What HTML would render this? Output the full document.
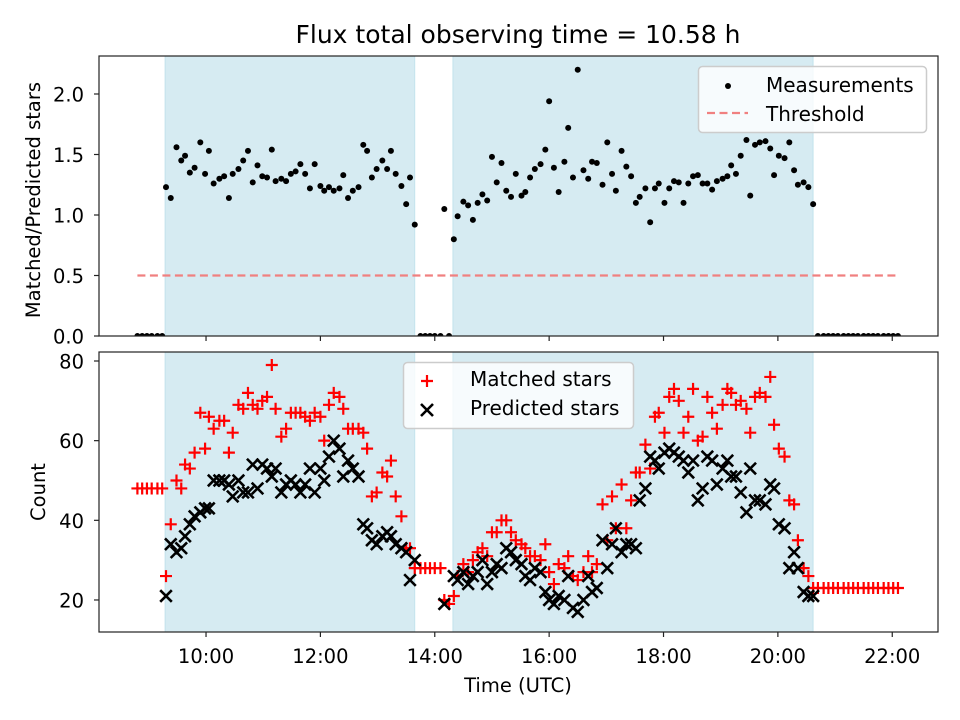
<!DOCTYPE html>
<html><head><meta charset="utf-8">
<style>
html,body{margin:0;padding:0;background:#fff;}
svg{display:block;font-family:"DejaVu Sans","Liberation Sans",sans-serif;}
</style></head>
<body>
<svg id="chart" width="960" height="720" viewBox="0 0 960 720" xmlns="http://www.w3.org/2000/svg">
<defs>
<clipPath id="clipTop"><rect x="99" y="56" width="839" height="280"/></clipPath>
<clipPath id="clipBot"><rect x="99" y="352" width="839" height="280"/></clipPath>
</defs>
<g id="layer"></g>
</svg>
<script>
// time in minutes since 00:00 UTC
const times = [528,533,538,543,549,554,
558,563,569,574,578,583,588,594,599,603,608,614,619,624,628,634,639,644,649,654,659,664,669,673,679,684,689,694,699,704,709,714,720,724,729,734,740,744,749,754,760,765,769,774,779,785,790,794,799,805,810,814,819,
825,830,835,840,846,850,855,
860,864,870,875,880,885,890,895,900,905,910,915,920,925,931,935,940,945,951,956,960,965,970,976,980,985,990,996,1001,1005,1010,1016,1021,1026,1030,1036,1041,1046,1051,1055,1061,1066,1071,1075,1081,1086,1091,1096,1101,1106,1111,1116,1121,1126,1131,1136,1142,1147,1151,1156,1161,1167,1171,1176,1181,1187,1192,1196,1201,1207,1212,1217,1221,1227,1232,1237,
1242,1248,1253,1258,1263,1269,1274,1279,1284,1290,1295,1300,1305,1311,1316,1321,1326];
const ratio = [0,0,0,0,0,0,
1.23,1.14,1.56,1.45,1.49,1.35,1.39,1.60,1.34,1.53,1.26,1.30,1.32,1.14,1.34,1.38,1.45,1.53,1.27,1.41,1.32,1.31,1.54,1.28,1.30,1.28,1.34,1.36,1.42,1.34,1.22,1.42,1.24,1.20,1.23,1.20,1.22,1.33,1.14,1.20,1.23,1.58,1.53,1.31,1.38,1.45,1.38,1.53,1.34,1.24,1.09,1.31,0.92,
0,0,0,0,0,1.05,0,
0.80,0.99,1.11,1.08,0.96,1.10,1.17,1.12,1.48,1.27,1.43,1.20,1.15,1.34,1.16,1.19,1.31,1.38,1.42,1.54,1.94,1.39,1.19,1.44,1.72,1.31,2.20,1.37,1.30,1.44,1.43,1.25,1.60,1.34,1.20,1.53,1.40,1.32,1.10,1.15,1.22,0.94,1.22,1.26,1.10,1.22,1.28,1.27,1.10,1.26,1.32,1.33,1.26,1.26,1.21,1.28,1.30,1.32,1.41,1.34,1.49,1.62,1.16,1.58,1.60,1.61,1.55,1.33,1.49,1.47,1.60,1.37,1.25,1.27,1.23,1.09,
0,0,0,0,0,0,0,0,0,0,0,0,0,0,0,0,0];
const matched = [48,48,48,48,48,48,
26,39,50,48,54,53,57,67,58,66,63,65,65,57,62,69,68,72,69,68,70,71,79,68,61,63,67,67,67,66,65,67,66,60,69,72,71,68,63,63,63,62,58,46,47,52,51,55,46,41,33,33,28,
28,28,28,28,28,20,19,
21,26,29,27,30,32,33,31,37,37,40,40,37,35,34,33,31,31,30,34,27,24,29,28,31,26,25,27,31,27,29,44,35,46,38,49,38,45,52,52,59,53,66,67,62,71,73,70,62,66,73,60,61,71,67,63,69,73,72,69,70,68,62,71,72,71,76,64,58,56,45,44,35,28,26,23,
23,23,23,23,23,23,23,23,23,23,23,23,23,23,23,23,23];
const predicted = [0,0,0,0,0,0,
21,34,32,33,36,39,41,42,43,43,50,50,50,49,46,50,47,47,54,48,54,53,51,53,47,49,50,49,47,49,53,47,53,50,56,60,58,51,55,53,51,39,38,35,34,36,37,36,34,33,32,25,30,
0,0,0,0,0,19,0,
26,25,27,24,26,27,30,24,27,29,28,33,32,30,29,26,25,28,27,22,20,19,21,20,26,18,17,20,26,22,23,35,28,34,38,32,34,34,33,45,48,56,55,53,57,58,57,56,55,52,55,45,48,56,55,49,53,55,51,51,47,42,53,45,45,44,49,48,39,38,28,32,28,22,21,21,
0,0,0,0,0,0,0,0,0,0,0,0,0,0,0,0,0];
const sessions = [[557,819],[859,1237]];
const threshold = 0.5;
const xTicks = [600,720,840,960,1080,1200,1320];
const xTickLabels = ["10:00","12:00","14:00","16:00","18:00","20:00","22:00"];
const yTopTicks = [0,0.5,1.0,1.5,2.0];
const yTopLabels = ["0.0","0.5","1.0","1.5","2.0"];
const yBotTicks = [20,40,60,80];
const yBotLabels = ["20","40","60","80"];

(function(){
const NS="http://www.w3.org/2000/svg";
const L=99,R=938,TT=56,TB=336,BT=352,BB=632;
const X0=487.7,X1=1368;
const sx=v=>L+(v-X0)/(X1-X0)*(R-L);
const syTop=v=>TB-(v-0)/(2.314)*(TB-TT);
const syBot=v=>BB-(v-11.96)/(82.26-11.96)*(BB-BT);
const layer=document.getElementById('layer');
function mk(tag,attrs,parent){const e=document.createElementNS(NS,tag);for(const k in attrs)e.setAttribute(k,attrs[k]);(parent||layer).appendChild(e);return e;}

function panel(y0,y1,name,clip){
  const g=mk('g',{});
  
  
  const cg=mk('g',{'clip-path':clip},g);
  sessions.forEach((s,i)=>{
    const r=mk('rect',{x:sx(s[0]),y:y0,width:sx(s[1])-sx(s[0]),height:y1-y0,fill:'#add8e6','fill-opacity':0.5,stroke:'#add8e6','stroke-opacity':0.6},cg);
    
    
  });
  return {g:g,cg:cg};
}
function frame(y0,y1,g,name){
  const f=mk('rect',{x:L,y:y0,width:R-L,height:y1-y0,fill:'none',stroke:'#222','stroke-width':1.2},g);
  
  
}

const topP=panel(TT,TB,'ratio-panel','url(#clipTop)');
const th=mk('line',{x1:sx(times[0]),x2:sx(times[times.length-1]),y1:syTop(threshold),y2:syTop(threshold),stroke:'#f08080','stroke-width':2.2,'stroke-dasharray':'8,4.5'},topP.cg);


times.forEach((t,i)=>{
  const c=mk('circle',{cx:sx(t),cy:syTop(ratio[i]),r:3,fill:'#000'},topP.cg);
  
  
});
frame(TT,TB,topP.g,'ratio-plot-frame');

const botP=panel(BT,BB,'count-panel','url(#clipBot)');
times.forEach((t,i)=>{
  const x=sx(t),y=syBot(matched[i]),d=6;
  const p=mk('path',{d:`M${x-d},${y}H${x+d}M${x},${y-d}V${y+d}`,stroke:'#f00','stroke-width':2.2,fill:'none'},botP.cg);
  
  
});
times.forEach((t,i)=>{
  const x=sx(t),y=syBot(predicted[i]),d=5.8;
  const p=mk('path',{d:`M${x-d},${y-d}L${x+d},${y+d}M${x-d},${y+d}L${x+d},${y-d}`,stroke:'#000','stroke-width':2.6,fill:'none'},botP.cg);
  
  
});
frame(BT,BB,botP.g,'count-plot-frame');

xTicks.forEach((t,i)=>{
  mk('line',{x1:sx(t),x2:sx(t),y1:TB,y2:TB+5,stroke:'#222','stroke-width':1.2});
  mk('line',{x1:sx(t),x2:sx(t),y1:BB,y2:BB+5,stroke:'#222','stroke-width':1.2});
  const tx=mk('text',{x:sx(t),y:663,'text-anchor':'middle','font-size':'19.5px',fill:'#000'});
  tx.textContent=xTickLabels[i];
  
  
});
yTopTicks.forEach((v,i)=>{
  mk('line',{x1:L-5,x2:L,y1:syTop(v),y2:syTop(v),stroke:'#222','stroke-width':1.2});
  const tx=mk('text',{x:L-15,y:syTop(v)+7.5,'text-anchor':'end','font-size':'19.5px',fill:'#000'});
  tx.textContent=yTopLabels[i];
  
  
});
yBotTicks.forEach((v,i)=>{
  mk('line',{x1:L-5,x2:L,y1:syBot(v),y2:syBot(v),stroke:'#222','stroke-width':1.2});
  const tx=mk('text',{x:L-15,y:syBot(v)+7.5,'text-anchor':'end','font-size':'19.5px',fill:'#000'});
  tx.textContent=yBotLabels[i];
  
  
});
})();
</script>
<svg style="position:absolute;left:0;top:0" width="960" height="720" xmlns="http://www.w3.org/2000/svg" font-family="DejaVu Sans, Liberation Sans, sans-serif">
<text x="518" y="43" text-anchor="middle" font-size="25px">Flux total observing time = 10.58 h</text>
<text transform="translate(40,200) rotate(-90)" text-anchor="middle" font-size="19.5px">Matched/Predicted stars</text>
<text transform="translate(45,492) rotate(-90)" text-anchor="middle" font-size="19.5px">Count</text>
<text x="518" y="692" text-anchor="middle" font-size="19.5px">Time (UTC)</text>
<g>
<rect x="698.5" y="66.5" width="228" height="66" rx="4" fill="#fff" fill-opacity="0.8" stroke="#ccc" stroke-width="1.5"/>
<circle cx="728" cy="86" r="3" fill="#000"/>
<line x1="707" x2="748" y1="113" y2="113" stroke="#f08080" stroke-width="2.2" stroke-dasharray="8,4.5"/>
<text x="766" y="92" font-size="20px">Measurements</text>
<text x="766" y="121" font-size="20px">Threshold</text>
</g>
<g>
<rect x="403.5" y="362.5" width="230" height="66" rx="4" fill="#fff" fill-opacity="0.8" stroke="#ccc" stroke-width="1.5"/>
<path d="M427,375V387M421,381H433" stroke="#f00" stroke-width="2.2"/>
<path d="M421,404L433,416M421,416L433,404" stroke="#000" stroke-width="2.6"/>
<text x="470" y="386" font-size="20px">Matched stars</text>
<text x="470" y="415" font-size="20px">Predicted stars</text>
</g>
</svg>
</body></html>
